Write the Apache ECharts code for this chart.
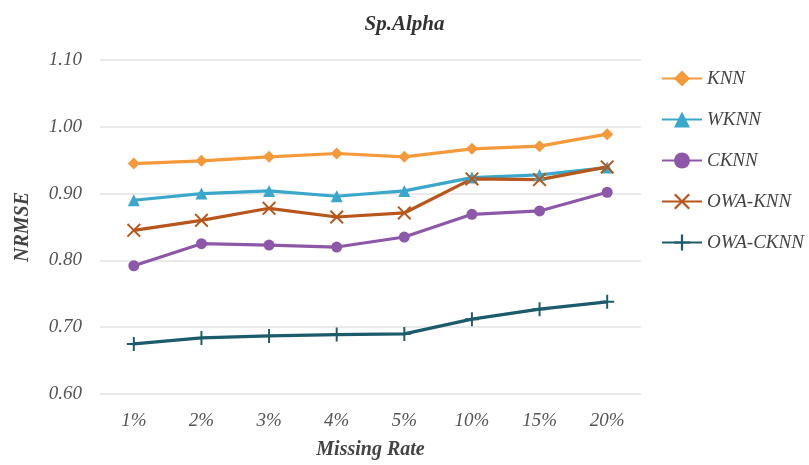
<!DOCTYPE html>
<html><head><meta charset="utf-8">
<script src="https://cdn.jsdelivr.net/npm/echarts@6/dist/echarts.min.js"></script>
<style>html,body{margin:0;padding:0;background:#fff;overflow:hidden}#c{width:809px;height:465px}</style>
</head><body><div id="c"></div>
<script>
const categories = ['1%','2%','3%','4%','5%','10%','15%','20%'];
const knn     = [0.945,0.949,0.955,0.960,0.955,0.967,0.971,0.989];
const wknn    = [0.890,0.900,0.904,0.896,0.904,0.924,0.928,0.939];
const cknn    = [0.792,0.825,0.823,0.820,0.835,0.869,0.874,0.902];
const owaKnn  = [0.845,0.860,0.878,0.865,0.871,0.922,0.921,0.940];
const owaCknn = [0.675,0.684,0.687,0.689,0.690,0.712,0.727,0.738];
const seriesNames = ['KNN','WKNN','CKNN','OWA-KNN','OWA-CKNN'];

const font = 'Liberation Serif';
const xPath = 'path://M1,0L5,4L9,0L10,1L6,5L10,9L9,10L5,6L1,10L0,9L4,5L0,1Z';
const plusPath = 'path://M4.3,0H5.7V4.3H10V5.7H5.7V10H4.3V5.7H0V4.3H4.3Z';

const colors = ['#F59A3A','#3BA7CB','#8E58A8','#B8561C','#1C5B6B'];
const symbols = ['diamond','triangle','circle',xPath,plusPath];
const sizes = [12,12,11,14,14];
const datas = [knn,wknn,cknn,owaKnn,owaCknn];

const chart = echarts.init(document.getElementById('c'));
chart.setOption({
  animation:false,
  title:{text:'Sp.Alpha',left:'center',top:9,textStyle:{fontFamily:font,fontStyle:'italic',fontWeight:'bold',fontSize:21,color:'#333'}},
  grid:{left:100,right:168,top:60,bottom:67},
  legend:{orient:'vertical',left:656,top:64,itemGap:22,itemWidth:40,itemHeight:20,
    textStyle:{fontFamily:font,fontStyle:'italic',fontSize:19,color:'#444'},
    data:seriesNames.map((n,i)=>({name:n,itemStyle:{}})),
    itemStyle:{}},
  xAxis:{type:'category',data:categories,boundaryGap:true,
    name:'Missing Rate',nameLocation:'middle',nameGap:46,
    nameTextStyle:{fontFamily:font,fontStyle:'italic',fontWeight:'bold',fontSize:20,color:'#444'},
    axisLine:{show:false},axisTick:{show:false},
    axisLabel:{fontFamily:font,fontStyle:'italic',fontSize:19,color:'#555',margin:17}},
  yAxis:{type:'value',min:0.6,max:1.1,interval:0.1,
    name:'NRMSE',nameLocation:'middle',nameGap:67,
    nameTextStyle:{fontFamily:font,fontStyle:'italic',fontWeight:'bold',fontSize:20,color:'#444'},
    axisLine:{show:false},axisTick:{show:false},
    splitLine:{lineStyle:{color:'#e3e3e3',width:1.5}},
    axisLabel:{fontFamily:font,fontStyle:'italic',fontSize:19,color:'#555',margin:18,formatter:v=>v.toFixed(2)}},
  series:seriesNames.map((n,i)=>({
    name:n,type:'line',data:datas[i],symbol:symbols[i],symbolSize:sizes[i],showAllSymbol:true,
    lineStyle:{width:3.2,color:colors[i]},itemStyle:{color:colors[i]}
  }))
});
</script></body></html>
